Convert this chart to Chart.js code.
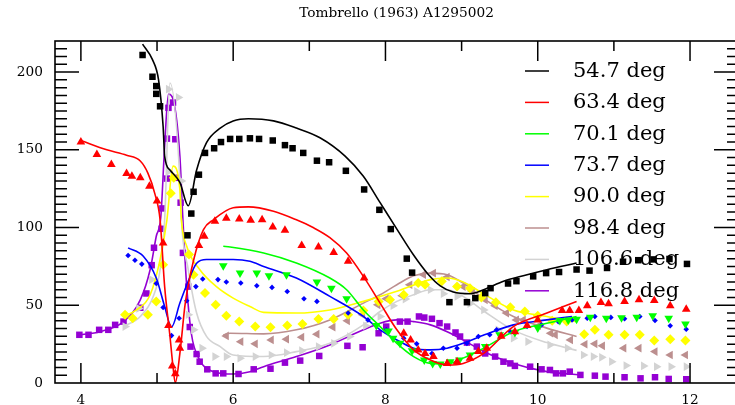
<!DOCTYPE html>
<html>
<head>
<meta charset="utf-8">
<script src="https://cdn.jsdelivr.net/npm/chart.js@4.4.1/dist/chart.umd.min.js"></script>
<style>
  html, body { margin: 0; padding: 0; overflow: hidden; background: #fff; }
  #wrap { width: 745px; height: 405px; }
</style>
</head>
<body>
<div id="wrap"><canvas id="myChart"></canvas></div>
<script>
const title = 'Tombrello (1963) A1295002';
const angles = ['54.7 deg', '63.4 deg', '70.1 deg', '73.7 deg', '90.0 deg', '98.4 deg', '106.6 deg', '116.8 deg'];
const xTicks = [4, 6, 8, 10, 12];
const yTicks = [0, 50, 100, 150, 200];

// measured points [energy, cross section]
const pts547 = [[4.81,211],[4.94,197],[4.99,191],[4.99,186],[5.04,178],[5.40,95],[5.45,109],[5.48,123],[5.55,134],[5.63,148],[5.75,151],[5.84,155],[5.96,157],[6.08,157],[6.22,157.4],[6.34,157],[6.52,156],[6.68,153],[6.78,151],[6.92,148],[7.10,143],[7.26,142],[7.48,136.5],[7.72,124.5],[7.92,111.4],[8.07,99],[8.28,80],[8.35,71],[8.84,52],[9.07,52],[9.18,54.6],[9.31,57.8],[9.38,61],[9.61,64],[9.72,65.5],[9.94,68.6],[10.11,70.7],[10.28,71.4],[10.51,73],[10.68,72.3],[10.91,74],[11.12,78],[11.32,79],[11.52,79.5],[11.73,79.8],[11.96,76.6]];
const pts634 = [[4.0,155],[4.21,147],[4.40,140.6],[4.60,134.8],[4.67,133],[4.78,132],[4.90,126.6],[5.0,117],[5.08,90],[5.15,37],[5.20,11],[5.24,6],[5.29,27.7],[5.30,22.4],[5.55,88.4],[5.62,94.4],[5.76,104],[5.91,106],[6.08,105.5],[6.23,104.7],[6.38,105],[6.52,100.4],[6.68,98.3],[6.90,88.4],[7.12,87.5],[7.32,84],[7.51,78.3],[7.72,67.5],[8.24,32],[8.33,27.7],[8.43,21.3],[8.52,19],[8.63,17],[8.81,12.6],[8.94,13.7],[9.11,15.9],[9.22,20.2],[9.33,22.4],[9.52,30],[9.70,33],[9.86,37],[10.0,40.6],[10.32,46.6],[10.42,46.6],[10.54,46.6],[10.65,49.7],[10.83,51.8],[10.93,51],[11.14,52.5],[11.33,53.5],[11.53,53.1],[11.74,49.7],[11.95,47.5]];
const pts701 = [[5.87,75.5],[6.09,70.7],[6.31,70.7],[6.47,69],[6.70,69.7],[7.10,65],[7.29,61],[7.49,54.2],[7.88,37],[8.04,33.5],[8.10,28.8],[8.19,25.5],[8.35,20.8],[8.51,14.8],[8.62,12.6],[8.72,12.3],[8.85,13.7],[8.97,14.8],[9.11,18],[9.31,23.4],[9.50,31],[9.70,32.5],[10.0,35.3],[10.29,40.2],[10.40,40.6],[10.51,41],[10.69,42.3],[10.90,41.7],[11.10,42],[11.30,42.3],[11.51,43.2],[11.72,41.7],[11.94,38]];
const pts737 = [[4.62,82],[4.71,79],[4.80,76.5],[4.99,64],[5.08,48.6],[5.19,30.5],[5.29,41.7],[5.39,52.9],[5.51,62],[5.60,66.9],[5.80,66.5],[5.91,65],[6.10,64.3],[6.31,62.6],[6.51,61.5],[6.71,58.9],[6.93,54.2],[7.10,52.5],[7.51,45],[7.77,40.6],[8.01,34.2],[8.24,28.8],[8.41,25.2],[8.61,19],[8.76,22.4],[8.94,22.4],[9.07,25.5],[9.22,29.9],[9.37,31],[9.46,34.2],[9.64,33],[9.86,36.3],[10.05,37.4],[10.27,39.5],[10.45,40.6],[10.65,41.7],[10.75,42.8],[10.96,42.2],[11.14,41.3],[11.34,42.8],[11.54,40.2],[11.74,36.8],[11.95,34.6]];
const pts900 = [[4.58,43.9],[4.68,41.7],[4.88,43.9],[4.99,52.5],[5.08,76],[5.18,122],[5.22,132],[5.42,82.6],[5.48,69.7],[5.63,57.9],[5.77,50.3],[5.91,43.2],[6.08,39.5],[6.29,36.3],[6.49,35.9],[6.71,37],[6.91,37.9],[7.12,41.1],[7.32,41.1],[7.51,43.9],[7.71,46.6],[7.91,52.5],[8.06,53.5],[8.24,56.8],[8.43,64.3],[8.52,63.2],[8.74,65.4],[8.94,62],[9.11,61],[9.26,55],[9.45,52],[9.64,48.8],[9.83,46],[10.0,43.2],[10.19,40],[10.38,39.5],[10.61,31.4],[10.75,34.2],[10.93,31],[11.14,31],[11.34,31],[11.53,27.3],[11.74,28.2],[11.94,27.3]];
const pts984 = [[5.91,30.3],[6.10,26.6],[6.29,25.2],[6.50,27.7],[6.70,28.2],[6.90,29.5],[7.10,31.4],[7.31,35.9],[7.50,40],[7.70,43.9],[7.90,50.3],[8.01,54.2],[8.22,56.1],[8.32,63.2],[8.50,69.7],[8.63,70.7],[8.81,68.2],[9.02,62],[9.14,59],[9.31,53.5],[9.44,49.7],[9.59,45],[9.72,40.6],[9.81,40.6],[10.01,36.8],[10.17,32],[10.23,31],[10.43,27.7],[10.62,24.9],[10.75,25.2],[10.85,23.9],[11.13,22.4],[11.33,22.4],[11.54,20.2],[11.74,18],[11.94,18]];
const pts1066 = [[4.58,36.3],[4.76,48],[4.93,66.5],[5.15,136],[5.15,189],[5.28,183.7],[5.32,130],[5.41,43.9],[5.48,34.2],[5.59,22.4],[5.76,17],[5.91,17],[6.09,15.9],[6.29,17],[6.50,18],[6.70,19.5],[6.90,20.8],[7.12,23.4],[7.32,25.5],[7.53,29.9],[7.74,36.8],[7.93,42.8],[8.10,49.7],[8.26,54],[8.41,58.9],[8.59,60],[8.76,57.4],[8.94,55.7],[9.11,51],[9.29,47],[9.48,34.2],[9.68,28.8],[9.87,26.6],[10.16,24.5],[10.39,22.4],[10.60,18],[10.73,17],[10.84,16.5],[10.97,13.7],[11.16,11.2],[11.39,11],[11.56,10.5],[11.75,10.5],[11.95,10.5]];
const pts1168 = [[3.98,31],[4.10,31],[4.24,34.2],[4.36,34.2],[4.45,37.4],[4.56,39.5],[4.78,48.4],[4.86,57.6],[4.93,75.8],[4.96,87],[5.06,99.2],[5.07,112.3],[5.13,131.5],[5.13,157.2],[5.15,177],[5.21,180.4],[5.24,156.8],[5.24,132],[5.31,116],[5.34,83.7],[5.41,62],[5.43,36],[5.44,23.4],[5.52,18.6],[5.56,13.7],[5.66,8.8],[5.77,6.2],[5.87,6.2],[6.07,5.8],[6.27,8.8],[6.49,9.2],[6.68,13.1],[6.88,14.4],[7.13,17.4],[7.50,23.9],[7.70,23],[7.91,32],[8.01,36.3],[8.19,39.5],[8.29,39.5],[8.44,42.8],[8.51,42.1],[8.61,41.3],[8.71,38.5],[8.81,36.3],[8.92,32.5],[8.98,29.9],[9.07,26],[9.20,23.4],[9.31,19],[9.44,17],[9.55,13.7],[9.64,12.6],[9.70,11],[9.90,10.5],[10.05,8.8],[10.16,8.4],[10.24,6.2],[10.33,6.2],[10.42,7.3],[10.56,5.2],[10.75,4.7],[10.89,4.1],[11.14,3.7],[11.35,3],[11.54,3.7],[11.72,2.6],[11.95,2.4]];

// calculated curves
const fit547 = [[4.81,218],[4.94,208],[5.02,195],[5.08,165],[5.10,146],[5.17,137],[5.30,129],[5.41,114],[5.52,137],[5.65,154.6],[5.83,164],[6.0,168.6],[6.2,170],[6.53,168.6],[6.83,164],[7.14,157.8],[7.47,146],[7.71,133],[7.93,116],[8.15,99],[8.36,83],[8.56,70],[8.72,62.5],[8.89,58.5],[9.11,57.4],[9.29,60],[9.55,65.4],[9.81,69],[10.12,72.9],[10.51,77.2]];
const fit634 = [[4.0,156],[4.34,150],[4.60,146.5],[4.78,142.8],[4.88,135],[4.97,122],[5.04,105],[5.10,62],[5.17,30],[5.21,10.5],[5.24,0],[5.30,19],[5.37,51],[5.48,79],[5.61,98.7],[5.74,105],[6.0,112.7],[6.2,113.3],[6.53,110.5],[6.83,105],[7.05,100],[7.27,93.5],[7.49,83.6],[7.71,68.6],[7.93,51.4],[8.15,34.2],[8.37,21.3],[8.59,14.8],[8.81,11.6],[9.02,12.6],[9.29,19],[9.68,36.3],[10.12,45],[10.51,52.5]];
const fit701 = [[5.87,88],[5.96,87.5],[6.40,83.6],[6.83,77.2],[7.27,67.5],[7.49,60],[7.71,47],[7.93,36.3],[8.15,25.5],[8.37,17],[8.59,12.6],[8.81,12.3],[9.02,16],[9.29,22.4],[9.68,33],[10.12,38.4],[10.51,42.8]];
const fit737 = [[4.62,86.9],[4.82,81.5],[4.99,67.5],[5.10,49.2],[5.19,36],[5.30,51.4],[5.39,63],[5.52,77],[5.65,79.4],[6.0,79.4],[6.22,78.3],[6.40,75],[6.83,67.5],[7.27,55.7],[7.71,42.8],[7.93,34.2],[8.15,27.7],[8.37,22.4],[8.59,21.3],[8.81,22.4],[9.02,25.5],[9.30,31],[9.68,37.4],[10.12,40.6],[10.45,42.8]];
const fit900 = [[4.56,42.8],[4.73,47],[4.91,56.8],[5.04,79.4],[5.13,105],[5.21,139.5],[5.30,124.5],[5.32,105],[5.39,88],[5.56,73],[5.78,62],[6.0,54.6],[6.22,49.2],[6.40,45.4],[6.83,45],[7.27,47],[7.71,52.5],[8.15,59],[8.59,66.5],[8.81,67.5],[9.02,65],[9.30,57],[9.68,47],[10.12,42.8],[10.51,39.5]];
const fit984 = [[5.87,31],[5.96,32],[6.40,31.6],[6.83,34.2],[7.27,40.6],[7.71,51.4],[7.93,56.8],[8.15,63.2],[8.37,69],[8.59,70.7],[8.81,69.7],[9.02,64.3],[9.30,54],[9.68,42.8],[10.12,35.3],[10.51,29.9]];
const fit1066 = [[4.56,36.3],[4.78,42.8],[4.95,55.7],[5.04,73],[5.10,105],[5.17,193],[5.30,131],[5.32,105],[5.41,73],[5.52,45],[5.65,30],[5.83,23.4],[6.0,18],[6.40,17],[6.83,20.2],[7.27,25.6],[7.71,37.4],[7.93,46],[8.15,52.5],[8.37,56.8],[8.59,60],[8.81,60],[9.02,55.7],[9.30,46],[9.68,34],[10.12,26],[10.51,21]];
const fit1168 = [[3.98,31],[4.25,33],[4.56,39.5],[4.78,53.5],[4.91,73],[4.99,94.4],[5.05,107],[5.10,152.5],[5.15,185.8],[5.21,182.6],[5.30,146],[5.34,105],[5.39,62],[5.45,32],[5.56,14.8],[5.74,7.3],[6.0,5.8],[6.22,7.3],[6.40,10.5],[6.83,17],[7.27,24.5],[7.71,34.2],[7.93,38.5],[8.15,40.6],[8.37,39.5],[8.59,37.4],[8.81,33],[9.02,27.7],[9.30,20],[9.68,12.6],[10.12,7.3],[10.56,5.2]];

const pointSets = [pts547, pts634, pts701, pts737, pts900, pts984, pts1066, pts1168];
const fitSets = [fit547, fit634, fit701, fit737, fit900, fit984, fit1066, fit1168];

const colors = ['#000000', '#ff0000', '#00ff00', '#0000ff', '#ffff00', '#bc8f8f', '#d3d3d3', '#9400d3'];
const markers = [
  {style: 'rect', rot: 0, r: 4.6},
  {style: 'triangle', rot: 0, r: 5},
  {style: 'triangle', rot: 180, r: 5},
  {style: 'rectRot', rot: 0, r: 2.8},
  {style: 'rectRot', rot: 0, r: 5},
  {style: 'triangle', rot: 270, r: 5},
  {style: 'triangle', rot: 90, r: 5},
  {style: 'rect', rot: 0, r: 4.6}
];

const toXY = arr => arr.map(p => ({x: p[0], y: p[1]}));

const datasets = [];
angles.forEach((name, i) => {
  datasets.push({
    label: name,
    data: toXY(pointSets[i]),
    showLine: false,
    pointStyle: markers[i].style,
    pointRotation: markers[i].rot,
    pointRadius: markers[i].r,
    pointBackgroundColor: colors[i],
    pointBorderWidth: 0,
    pointBorderColor: colors[i]
  });
  datasets.push({
    label: name + ' calc',
    data: toXY(fitSets[i]),
    showLine: true,
    borderColor: colors[i],
    borderWidth: 1.6,
    pointRadius: 0,
    cubicInterpolationMode: 'monotone',
    fill: false
  });
});

const serif = 'DejaVu Serif';

// box, inward ticks, title and legend
const framePlugin = {
  id: 'frame',
  beforeDatasetsDraw(chart) {
    const ctx = chart.ctx;
    ctx.save();
    ctx.font = '21px "' + serif + '"';
    ctx.textAlign = 'left';
    ctx.textBaseline = 'alphabetic';
    angles.forEach((name, i) => {
      const base = 76.7 + i * 31.4;
      ctx.strokeStyle = colors[i];
      ctx.lineWidth = 1.5;
      ctx.beginPath();
      ctx.moveTo(525, base - 5.7);
      ctx.lineTo(549, base - 5.7);
      ctx.stroke();
      ctx.fillStyle = '#000';
      ctx.fillText(name, 573, base);
    });
    ctx.restore();
  },
  afterDraw(chart) {
    const ctx = chart.ctx;
    const a = chart.chartArea;
    const xs = chart.scales.x, ys = chart.scales.y;
    ctx.save();
    ctx.strokeStyle = '#000';
    ctx.lineWidth = 1.6;
    ctx.strokeRect(a.left, a.top, a.right - a.left, a.bottom - a.top);
    ctx.lineWidth = 1.5;
    ctx.beginPath();
    for (let v = 4; v <= 12; v++) {
      const px = xs.getPixelForValue(v);
      const len = v % 2 === 0 ? 20 : 10;
      ctx.moveTo(px, a.bottom); ctx.lineTo(px, a.bottom - len);
      ctx.moveTo(px, a.top); ctx.lineTo(px, a.top + len);
    }
    for (let v = 5; v < 220; v += 5) {
      const py = ys.getPixelForValue(v);
      const major = v % 50 === 0;
      ctx.moveTo(a.left, py); ctx.lineTo(a.left + (major ? 24 : 12), py);
      ctx.moveTo(a.right, py); ctx.lineTo(a.right - (major ? 24 : 11), py);
    }
    ctx.stroke();
    ctx.fillStyle = '#000';
    ctx.font = '13.7px "' + serif + '"';
    ctx.textAlign = 'center';
    ctx.textBaseline = 'middle';
    ctx.fillText(title, (a.left + a.right) / 2, 13);
    ctx.restore();
  }
};

const ctx = document.getElementById('myChart');
new Chart(ctx, {
  type: 'scatter',
  data: {datasets: datasets},
  options: {
    responsive: true,
    maintainAspectRatio: false,
    animation: false,
    layout: {padding: {top: 41, right: 7, left: 0, bottom: 0}},
    plugins: {legend: {display: false}, tooltip: {enabled: false}},
    scales: {
      x: {
        type: 'linear',
        min: 3.66,
        max: 12.63,
        grid: {display: false, drawTicks: false},
        border: {display: false},
        afterBuildTicks: s => { s.ticks = xTicks.map(v => ({value: v})); },
        afterFit: s => { s.height = 22; },
        ticks: {color: '#000', padding: 9, maxRotation: 0, autoSkip: false, font: {family: serif, size: 13.7}}
      },
      y: {
        type: 'linear',
        min: 0,
        max: 220,
        grid: {display: false, drawTicks: false},
        border: {display: false},
        afterBuildTicks: s => { s.ticks = yTicks.map(v => ({value: v})); },
        afterFit: s => { s.width = 55; },
        ticks: {color: '#000', padding: 12, autoSkip: false, font: {family: serif, size: 13.7}}
      }
    }
  },
  plugins: [framePlugin]
});
</script>
</body>
</html>
